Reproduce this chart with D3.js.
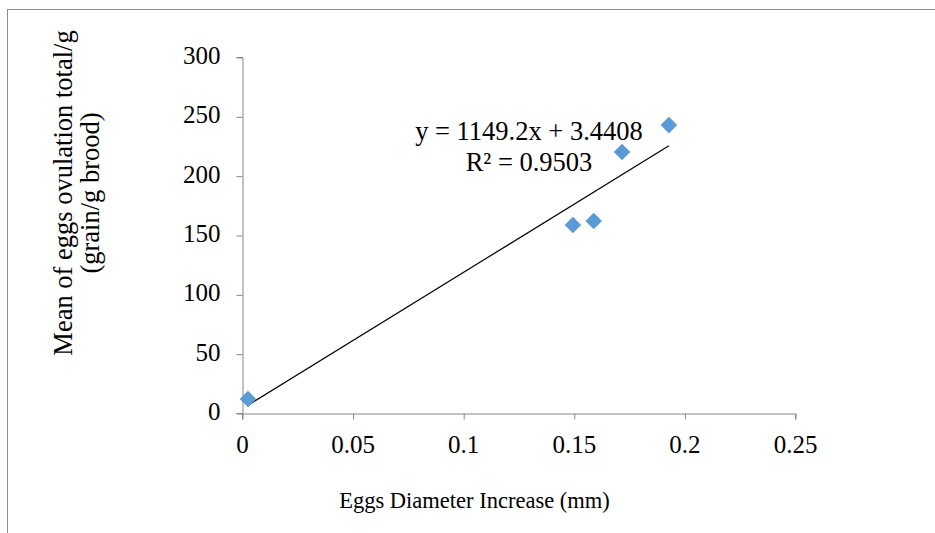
<!DOCTYPE html>
<html>
<head>
<meta charset="utf-8">
<script src="https://cdn.jsdelivr.net/npm/d3@7"></script>
<style>
  html, body { margin: 0; padding: 0; background: #fff; }
  svg { display: block; }
  text { font-family: "Liberation Serif", "Times New Roman", serif; fill: #000; }
</style>
</head>
<body>
<svg id="chart" width="935" height="533"></svg>
<script>
// Egg diameter increase (mm) vs. mean eggs ovulated per gram of brood
const diameterIncrease = [0.0027, 0.1496, 0.159, 0.1718, 0.193];
const eggsPerGram = [11.8, 158.4, 161.8, 219.9, 242.6];
const xTicks = [0, 0.05, 0.1, 0.15, 0.2, 0.25];
const yTicks = [0, 50, 100, 150, 200, 250, 300];
const trendSlope = 1149.2;
const trendIntercept = 3.4408;
const trendR2 = 0.9503;

const svg = d3.select("#chart");
const W = 935, H = 533;
const plot = { left: 242, right: 795, top: 57, bottom: 413 };

// outer frame (runs off the right and bottom edges)
svg.append("rect")
  .attr("x", 7.5).attr("y", 9.5)
  .attr("width", W + 10).attr("height", H + 10)
  .attr("fill", "none").attr("stroke", "#8c8c8c").attr("stroke-width", 1);

const x = d3.scaleLinear().domain([0, 0.25]).range([plot.left, plot.right]);
const y = d3.scaleLinear().domain([0, 300]).range([plot.bottom, plot.top]);

const axisColor = "#868686";
const fmtX = d => d === 0 ? "0" : String(d);

const gx = svg.append("g")
  .attr("transform", `translate(0,${plot.bottom + 0.5})`)
  .call(d3.axisBottom(x).tickValues(xTicks).tickFormat(fmtX).tickSize(6).tickPadding(16));
const gy = svg.append("g")
  .attr("transform", `translate(${plot.left + 0.5},0)`)
  .call(d3.axisLeft(y).tickValues(yTicks).tickSize(6).tickPadding(16));

[gx, gy].forEach(g => {
  g.select(".domain").attr("stroke", axisColor).attr("stroke-width", 1);
  g.selectAll(".tick line").attr("stroke", axisColor);
  g.selectAll(".tick text")
    .attr("font-family", "Liberation Serif, Times New Roman, serif")
    .attr("font-size", 25).attr("fill", "#000");
});
gx.selectAll(".tick line").attr("x1", 0.5).attr("x2", 0.5);
gy.selectAll(".tick line").attr("y1", 0.5).attr("y2", 0.5);
gy.selectAll(".tick text").attr("dy", "0.26em");

// linear trendline over the data range
const xMin = d3.min(diameterIncrease), xMax = d3.max(diameterIncrease);
svg.append("line")
  .attr("x1", x(xMin)).attr("y1", y(trendSlope * xMin + trendIntercept))
  .attr("x2", x(xMax)).attr("y2", y(trendSlope * xMax + trendIntercept))
  .attr("stroke", "#000").attr("stroke-width", 1.2);

// diamond markers
const diamond = d3.symbol().type(d3.symbolDiamond2).size(175);
svg.append("g").selectAll("path")
  .data(diameterIncrease.map((d, i) => [d, eggsPerGram[i]]))
  .join("path")
  .attr("d", diamond)
  .attr("transform", d => `translate(${x(d[0])},${y(d[1])})`)
  .attr("fill", "#5b9bd5");

// equation label
const eq = svg.append("text")
  .attr("font-size", 26.5).attr("text-anchor", "middle");
eq.append("tspan").attr("x", 529).attr("y", 140)
  .text(`y = ${trendSlope}x + ${trendIntercept}`);
eq.append("tspan").attr("x", 529).attr("y", 171)
  .text(`R² = ${trendR2}`);

// axis titles
svg.append("text")
  .attr("x", 474.5).attr("y", 508)
  .attr("text-anchor", "middle").attr("font-size", 22.5)
  .text("Eggs Diameter Increase (mm)");

const yt = svg.append("text")
  .attr("transform", "translate(0,193) rotate(-90)")
  .attr("text-anchor", "middle").attr("font-size", 26.5);
yt.append("tspan").attr("x", 0).attr("y", 72).text("Mean of eggs ovulation total/g");
yt.append("tspan").attr("x", 0).attr("y", 99).text("(grain/g brood)");
</script>
</body>
</html>
